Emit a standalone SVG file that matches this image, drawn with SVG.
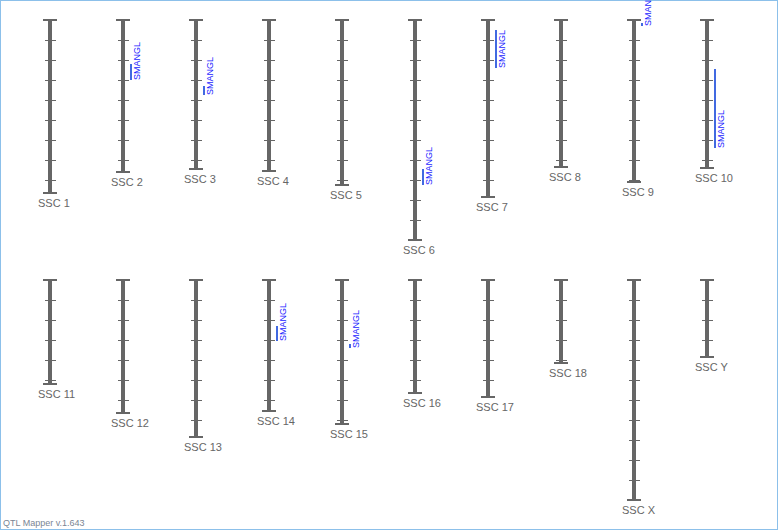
<svg xmlns="http://www.w3.org/2000/svg" width="778" height="530" viewBox="0 0 778 530">
<style>
.bar{fill:#666666}
.cap{stroke:#666666;stroke-width:2;fill:none}
.tick{stroke:#666666;stroke-width:1;fill:none}
.lbl{font-family:"Liberation Sans",Arial,sans-serif;font-size:11px;fill:#666666}
.qtl{fill:#4169e1}
.qlbl{font-family:"Liberation Sans",Arial,sans-serif;font-size:9px;fill:#1a1aff}
.foot{font-family:"Liberation Sans",Arial,sans-serif;font-size:9px;fill:#7a8594}
</style>
<rect x="0.5" y="0.5" width="777" height="529" fill="#ffffff" stroke="#8cc0ea" stroke-width="1"/>

<g id="ssc1">
<rect class="bar" x="48" y="20" width="4" height="173"/>
<path class="cap" d="M43 20H57M43 193H57"/>
<path class="tick" d="M45 40.5H56M45 60.5H56M45 80.5H56M45 100.5H56M45 120.5H56M45 140.5H56M45 160.5H56M45 180.5H56"/>
<text class="lbl" x="38" y="207">SSC 1</text>
</g>
<g id="ssc2">
<rect class="bar" x="121" y="20" width="4" height="152"/>
<path class="cap" d="M116 20H130M116 172H130"/>
<path class="tick" d="M118 40.5H129M118 60.5H129M118 80.5H129M118 100.5H129M118 120.5H129M118 140.5H129M118 160.5H129"/>
<text class="lbl" x="111" y="186">SSC 2</text>
<rect class="qtl" x="130" y="64" width="2" height="16"/>
<text class="qlbl" transform="translate(140,80) rotate(-90)">SMANGL</text>
</g>
<g id="ssc3">
<rect class="bar" x="194" y="20" width="4" height="149"/>
<path class="cap" d="M189 20H203M189 169H203"/>
<path class="tick" d="M191 40.5H202M191 60.5H202M191 80.5H202M191 100.5H202M191 120.5H202M191 140.5H202M191 160.5H202"/>
<text class="lbl" x="184" y="183">SSC 3</text>
<rect class="qtl" x="203" y="86" width="2" height="9"/>
<text class="qlbl" transform="translate(213,95) rotate(-90)">SMANGL</text>
</g>
<g id="ssc4">
<rect class="bar" x="267" y="20" width="4" height="151"/>
<path class="cap" d="M262 20H276M262 171H276"/>
<path class="tick" d="M264 40.5H275M264 60.5H275M264 80.5H275M264 100.5H275M264 120.5H275M264 140.5H275M264 160.5H275"/>
<text class="lbl" x="257" y="185">SSC 4</text>
</g>
<g id="ssc5">
<rect class="bar" x="340" y="20" width="4" height="165"/>
<path class="cap" d="M335 20H349M335 185H349"/>
<path class="tick" d="M337 40.5H348M337 60.5H348M337 80.5H348M337 100.5H348M337 120.5H348M337 140.5H348M337 160.5H348M337 180.5H348"/>
<text class="lbl" x="330" y="199">SSC 5</text>
</g>
<g id="ssc6">
<rect class="bar" x="413" y="20" width="4" height="220"/>
<path class="cap" d="M408 20H422M408 240H422"/>
<path class="tick" d="M410 40.5H421M410 60.5H421M410 80.5H421M410 100.5H421M410 120.5H421M410 140.5H421M410 160.5H421M410 180.5H421M410 200.5H421M410 220.5H421"/>
<text class="lbl" x="403" y="254">SSC 6</text>
<rect class="qtl" x="422" y="169" width="2" height="16"/>
<text class="qlbl" transform="translate(432,185) rotate(-90)">SMANGL</text>
</g>
<g id="ssc7">
<rect class="bar" x="486" y="20" width="4" height="177"/>
<path class="cap" d="M481 20H495M481 197H495"/>
<path class="tick" d="M483 40.5H494M483 60.5H494M483 80.5H494M483 100.5H494M483 120.5H494M483 140.5H494M483 160.5H494M483 180.5H494"/>
<text class="lbl" x="476" y="211">SSC 7</text>
<rect class="qtl" x="495" y="30" width="2" height="38"/>
<text class="qlbl" transform="translate(505,68) rotate(-90)">SMANGL</text>
</g>
<g id="ssc8">
<rect class="bar" x="559" y="20" width="4" height="147"/>
<path class="cap" d="M554 20H568M554 167H568"/>
<path class="tick" d="M556 40.5H567M556 60.5H567M556 80.5H567M556 100.5H567M556 120.5H567M556 140.5H567M556 160.5H567"/>
<text class="lbl" x="549" y="181">SSC 8</text>
</g>
<g id="ssc9">
<rect class="bar" x="632" y="20" width="4" height="162"/>
<path class="cap" d="M627 20H641M627 182H641"/>
<path class="tick" d="M629 40.5H640M629 60.5H640M629 80.5H640M629 100.5H640M629 120.5H640M629 140.5H640M629 160.5H640M629 180.5H640"/>
<text class="lbl" x="622" y="196">SSC 9</text>
<rect class="qtl" x="641" y="23" width="2" height="3"/>
<text class="qlbl" transform="translate(651,26) rotate(-90)">SMANGL</text>
</g>
<g id="ssc10">
<rect class="bar" x="705" y="20" width="4" height="148"/>
<path class="cap" d="M700 20H714M700 168H714"/>
<path class="tick" d="M702 40.5H713M702 60.5H713M702 80.5H713M702 100.5H713M702 120.5H713M702 140.5H713M702 160.5H713"/>
<text class="lbl" x="695" y="182">SSC 10</text>
<rect class="qtl" x="714" y="69" width="2" height="79"/>
<text class="qlbl" transform="translate(724,148) rotate(-90)">SMANGL</text>
</g>

<g id="ssc11">
<rect class="bar" x="48" y="280" width="4" height="104"/>
<path class="cap" d="M43 280H57M43 384H57"/>
<path class="tick" d="M45 300.5H56M45 320.5H56M45 340.5H56M45 360.5H56M45 380.5H56"/>
<text class="lbl" x="38" y="398">SSC 11</text>
</g>
<g id="ssc12">
<rect class="bar" x="121" y="280" width="4" height="133"/>
<path class="cap" d="M116 280H130M116 413H130"/>
<path class="tick" d="M118 300.5H129M118 320.5H129M118 340.5H129M118 360.5H129M118 380.5H129M118 400.5H129"/>
<text class="lbl" x="111" y="427">SSC 12</text>
</g>
<g id="ssc13">
<rect class="bar" x="194" y="280" width="4" height="157"/>
<path class="cap" d="M189 280H203M189 437H203"/>
<path class="tick" d="M191 300.5H202M191 320.5H202M191 340.5H202M191 360.5H202M191 380.5H202M191 400.5H202M191 420.5H202"/>
<text class="lbl" x="184" y="451">SSC 13</text>
</g>
<g id="ssc14">
<rect class="bar" x="267" y="280" width="4" height="131"/>
<path class="cap" d="M262 280H276M262 411H276"/>
<path class="tick" d="M264 300.5H275M264 320.5H275M264 340.5H275M264 360.5H275M264 380.5H275M264 400.5H275"/>
<text class="lbl" x="257" y="425">SSC 14</text>
<rect class="qtl" x="276" y="326" width="2" height="15"/>
<text class="qlbl" transform="translate(286,341) rotate(-90)">SMANGL</text>
</g>
<g id="ssc15">
<rect class="bar" x="340" y="280" width="4" height="144"/>
<path class="cap" d="M335 280H349M335 424H349"/>
<path class="tick" d="M337 300.5H348M337 320.5H348M337 340.5H348M337 360.5H348M337 380.5H348M337 400.5H348M337 420.5H348"/>
<text class="lbl" x="330" y="438">SSC 15</text>
<rect class="qtl" x="349" y="344" width="2" height="4"/>
<text class="qlbl" transform="translate(359,348) rotate(-90)">SMANGL</text>
</g>
<g id="ssc16">
<rect class="bar" x="413" y="280" width="4" height="113"/>
<path class="cap" d="M408 280H422M408 393H422"/>
<path class="tick" d="M410 300.5H421M410 320.5H421M410 340.5H421M410 360.5H421M410 380.5H421"/>
<text class="lbl" x="403" y="407">SSC 16</text>
</g>
<g id="ssc17">
<rect class="bar" x="486" y="280" width="4" height="117"/>
<path class="cap" d="M481 280H495M481 397H495"/>
<path class="tick" d="M483 300.5H494M483 320.5H494M483 340.5H494M483 360.5H494M483 380.5H494"/>
<text class="lbl" x="476" y="411">SSC 17</text>
</g>
<g id="ssc18">
<rect class="bar" x="559" y="280" width="4" height="83"/>
<path class="cap" d="M554 280H568M554 363H568"/>
<path class="tick" d="M556 300.5H567M556 320.5H567M556 340.5H567M556 360.5H567"/>
<text class="lbl" x="549" y="377">SSC 18</text>
</g>
<g id="sscX">
<rect class="bar" x="632" y="280" width="4" height="220"/>
<path class="cap" d="M627 280H641M627 500H641"/>
<path class="tick" d="M629 300.5H640M629 320.5H640M629 340.5H640M629 360.5H640M629 380.5H640M629 400.5H640M629 420.5H640M629 440.5H640M629 460.5H640M629 480.5H640"/>
<text class="lbl" x="622" y="514">SSC X</text>
</g>
<g id="sscY">
<rect class="bar" x="705" y="280" width="4" height="77"/>
<path class="cap" d="M700 280H714M700 357H714"/>
<path class="tick" d="M702 300.5H713M702 320.5H713M702 340.5H713"/>
<text class="lbl" x="695" y="371">SSC Y</text>
</g>

<g id="connectors"></g>
<text class="foot" x="3" y="526">QTL Mapper v.1.643</text>
</svg>
